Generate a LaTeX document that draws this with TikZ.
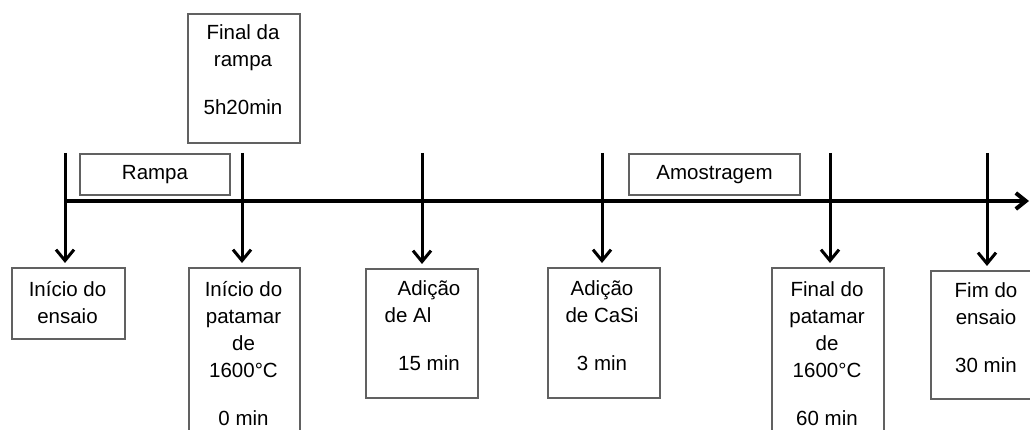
\documentclass[tikz,border=0pt]{standalone}
\usepackage{fontspec}
\setmainfont{Liberation Sans}
\usetikzlibrary{arrows.meta,calc}
\begin{document}
\begin{tikzpicture}[x=1pt,y=-1pt,
  box/.style={draw=black!62, line width=1.6pt, inner sep=0pt, anchor=north west},
  lbl/.style={draw=black!62, line width=1.6pt, inner sep=0pt,
    font=\fontsize{20.5}{27}\selectfont},
  txt/.style={inner sep=0pt, anchor=base, font=\fontsize{20.5}{27}\selectfont},
  axisline/.style={line width=4pt, -{Straight Barb[length=10pt,width=16pt]}},
  tick/.style={line width=3pt, -{Straight Barb[length=11pt,width=18pt]}, shorten >=4pt}]
\clip (0,0) rectangle (1030,430);
% axis
\coordinate (a0) at (65,201);
\coordinate (a1) at (1029,201);
\draw[axisline] (a0) -- (a1);
% top labels
\node[lbl, minimum width=150pt, minimum height=41pt] (rampa) at (155,174.5) {Rampa};
\node[lbl, minimum width=171pt, minimum height=41pt] (amostra) at (714.5,174.5) {Amostragem};
% top box
\node[box, minimum width=112pt, minimum height=129pt] (btop) at (187,13) {};
\node[txt] (ttop) at (243,40) {\begin{tabular}[t]{@{}c@{}}Final da\\rampa\\[21pt]5h20min\end{tabular}};
% bottom boxes
\node[box, minimum width=113pt, minimum height=71pt] (b1) at (11,267) {};
\node[box, minimum width=111pt, minimum height=180pt] (b2) at (188,267) {};
\node[box, minimum width=112pt, minimum height=129pt] (b3) at (365,268) {};
\node[box, minimum width=112pt, minimum height=130pt] (b4) at (547,267) {};
\node[box, minimum width=112pt, minimum height=180pt] (b5) at (771,267) {};
\node[box, minimum width=112pt, minimum height=128pt] (b6) at (930,270) {};
\node[txt] (t1) at (67.5,296) {\begin{tabular}[t]{@{}c@{}}Início do\\ensaio\end{tabular}};
\node[txt] (t2) at (243.5,296) {\begin{tabular}[t]{@{}c@{}}Início do\\patamar\\de\\1600°C\\[21pt]0 min\end{tabular}};
\node[txt] (t3) at (429,295) {\begin{tabular}[t]{@{}c@{}}Adição\\de Al\hspace*{42pt}\\[21pt]15 min\end{tabular}};
\node[txt] (t4) at (602,295) {\begin{tabular}[t]{@{}c@{}}Adição\\de CaSi\\[21pt]3 min\end{tabular}};
\node[txt] (t5) at (827,296) {\begin{tabular}[t]{@{}c@{}}Final do\\patamar\\de\\1600°C\\[21pt]60 min\end{tabular}};
\node[txt] (t6) at (986,297) {\begin{tabular}[t]{@{}c@{}}Fim do\\ensaio\\[21pt]30 min\end{tabular}};
% ticks
\coordinate (k1) at (65,153);
\coordinate (k2) at (242,153);
\coordinate (k3) at (422,153);
\coordinate (k4) at (602,153);
\coordinate (k5) at (830,153);
\coordinate (k6) at (987,153);
\draw[tick] (k1) -- (k1 |- b1.north);
\draw[tick] (k2) -- (k2 |- b2.north);
\draw[tick] (k3) -- (k3 |- b3.north);
\draw[tick] (k4) -- (k4 |- b4.north);
\draw[tick] (k5) -- (k5 |- b5.north);
\draw[tick] (k6) -- (k6 |- b6.north);
\end{tikzpicture}
\end{document}
